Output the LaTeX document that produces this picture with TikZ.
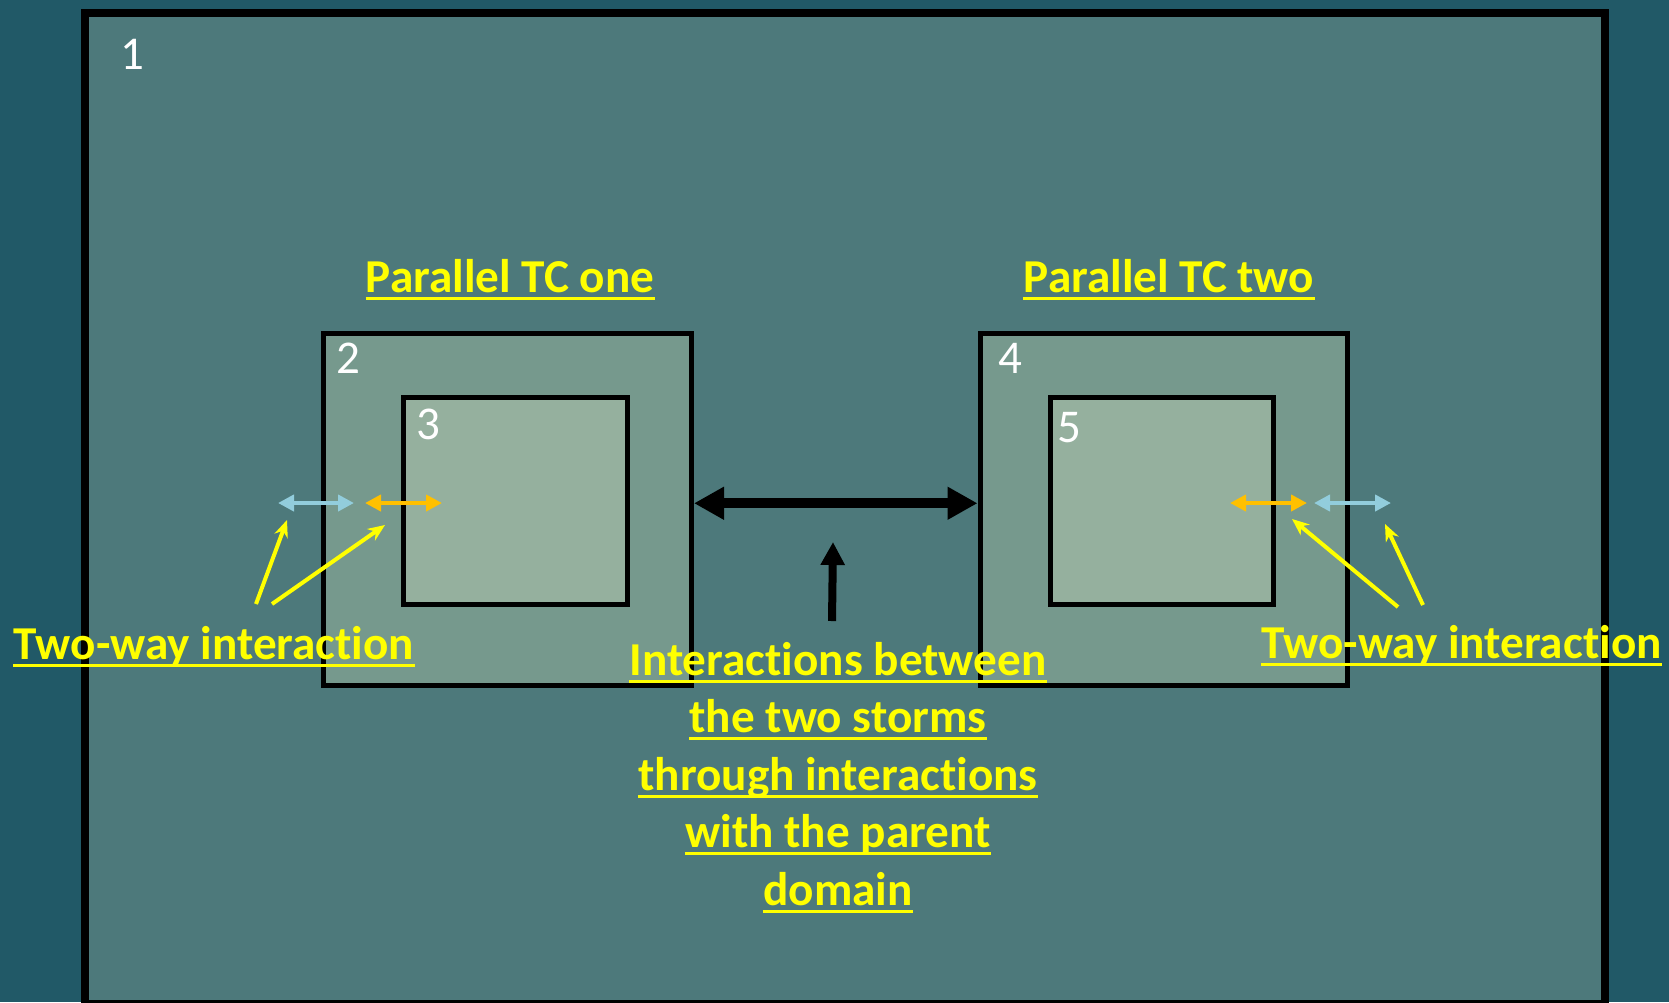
\documentclass[tikz,border=0pt]{standalone}
\usepackage{fontspec}
\setmainfont[Ligatures=NoCommon]{Carlito}
\usetikzlibrary{arrows.meta}
\definecolor{bgc}{RGB}{33,89,103}
\definecolor{outerc}{RGB}{77,121,123}
\definecolor{midc}{RGB}{118,153,141}
\definecolor{innerc}{RGB}{149,176,158}
\definecolor{blu}{RGB}{146,205,220}
\definecolor{ora}{RGB}{255,192,0}
\definecolor{yel}{RGB}{255,255,0}
\begin{document}
\begin{tikzpicture}[x=0.5pt,y=-0.5pt,
  domainbox/.style={draw=black, rectangle, inner sep=0pt},
  numlabel/.style={text=white, font=\fontsize{23.5}{28}\selectfont, inner sep=0pt, anchor=base west},
  ylabel/.style={text=yel, font=\bfseries\fontsize{23.6}{28}\selectfont, inner sep=0pt, anchor=base},
  uline/.style={draw=yel, line width=1.6pt},
  smallarrow/.style={line width=2.3pt, {Triangle[length=8pt,width=8pt]}-{Triangle[length=8pt,width=8pt]}},
  pointer/.style={draw=yel, line width=2pt, -{Stealth[length=8.5pt,width=7pt]}}]
\useasboundingbox (0,0) rectangle (1669,1002);
\fill[bgc] (0,0) rectangle (1669,1002);

% domains
\node[domainbox, fill=outerc, line width=4pt, minimum width=760pt, minimum height=495.5pt] (d1) at (845,508.5) {};
\node[domainbox, fill=midc, line width=2.5pt, minimum width=184pt, minimum height=175.75pt] (d2) at (507.5,509.25) {};
\node[domainbox, fill=innerc, line width=2.5pt, minimum width=112pt, minimum height=103.5pt] (d3) at (515.5,501) {};
\node[domainbox, fill=midc, line width=2.5pt, minimum width=183.5pt, minimum height=175.75pt] (d4) at (1163.5,509.25) {};
\node[domainbox, fill=innerc, line width=2.5pt, minimum width=111.5pt, minimum height=103.5pt] (d5) at (1161.5,501) {};

% numbers
\node[numlabel] (n1) at (120,69) {1};
\node[numlabel] (n2) at (336,373) {2};
\node[numlabel] (n3) at (416,439) {3};
\node[numlabel] (n4) at (998,373) {4};
\node[numlabel] (n5) at (1057,442) {5};

% titles and labels
\node[ylabel] (t1) at (510,292) {Parallel TC one};
\node[ylabel] (t2) at (1169,292) {Parallel TC two};
\node[ylabel] (tl) at (214,659) {Two-way interaction};
\node[ylabel] (tr) at (1461.5,658) {Two-way interaction};
\node[ylabel] (m1) at (838,675) {Interactions between};
\node[ylabel] (m2) at (838,732) {the two storms};
\node[ylabel] (m3) at (838,790) {through interactions};
\node[ylabel] (m4) at (838,847) {with the parent};
\node[ylabel] (m5) at (838,905) {domain};
\foreach \n in {t1,t2,tl,tr,m1,m2,m3,m4,m5}
  \draw[uline] ([yshift=-3.3pt]\n.base west) -- ([yshift=-3.3pt]\n.base east);

% big interaction arrow
\draw[line width=5pt, {Triangle[length=15pt,width=15.5pt]}-{Triangle[length=15pt,width=15.5pt]}]
  ([yshift=3pt]d2.east) -- ([yshift=3pt]d4.west);
\coordinate (upTail) at (832,621);
\coordinate (upTip) at (833,542);
\draw[line width=4pt, -{Triangle[length=11.5pt,width=11.5pt]}] (upTail) -- (upTip);

% two-way arrows
\coordinate (lb1) at (278,503); \coordinate (lb2) at (354,503);
\coordinate (lo1) at (365,503); \coordinate (lo2) at (442,503);
\coordinate (ro1) at (1230,503); \coordinate (ro2) at (1307,503);
\coordinate (rb1) at (1314,503); \coordinate (rb2) at (1391,503);
\draw[smallarrow, blu] (lb1) -- (lb2);
\draw[smallarrow, ora] (lo1) -- (lo2);
\draw[smallarrow, ora] (ro1) -- (ro2);
\draw[smallarrow, blu] (rb1) -- (rb2);

% pointers
\coordinate (pl1s) at (256,604); \coordinate (pl1e) at (287,520);
\coordinate (pl2s) at (272,604); \coordinate (pl2e) at (385,525);
\coordinate (pr1s) at (1398,607); \coordinate (pr1e) at (1292,519);
\coordinate (pr2s) at (1423,605); \coordinate (pr2e) at (1385,524);
\draw[pointer] (pl1s) -- (pl1e);
\draw[pointer] (pl2s) -- (pl2e);
\draw[pointer] (pr1s) -- (pr1e);
\draw[pointer] (pr2s) -- (pr2e);
\end{tikzpicture}
\end{document}
